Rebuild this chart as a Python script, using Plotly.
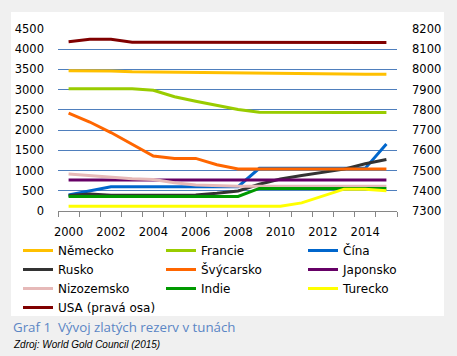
import plotly.graph_objects as go

years = list(range(2000, 2016))
tick_years = [2000, 2002, 2004, 2006, 2008, 2010, 2012, 2014]

nemecko = [3468, 3468, 3463, 3440, 3433, 3428, 3423, 3417, 3413, 3408, 3402, 3396, 3391, 3387, 3384, 3381]
francie = [3025, 3025, 3025, 3025, 2985, 2826, 2715, 2605, 2510, 2440, 2435, 2435, 2435, 2435, 2435, 2435]
cina = [395, 500, 600, 600, 600, 600, 600, 600, 600, 1054, 1054, 1054, 1054, 1054, 1054, 1658]
rusko = [384, 423, 390, 390, 387, 387, 395, 438, 495, 660, 790, 880, 960, 1035, 1170, 1275]
svycarsko = [2420, 2200, 1940, 1655, 1360, 1300, 1300, 1145, 1040, 1040, 1040, 1040, 1040, 1040, 1040, 1040]
japonsko = [765] * 16
nizozemsko = [912, 870, 840, 800, 780, 700, 645, 621, 612, 612, 612, 612, 612, 612, 612, 612]
indie = [358, 358, 358, 358, 358, 358, 358, 358, 358, 558, 558, 558, 558, 558, 558, 558]
turecko = [116, 116, 116, 116, 116, 116, 116, 116, 116, 116, 116, 200, 370, 540, 540, 500]
usa = [8137, 8149, 8149, 8135, 8135, 8135, 8133, 8133, 8133, 8133, 8133, 8133, 8133, 8133, 8133, 8133]

# (name, values, colour, legend column)
series = [
    ("Německo", nemecko, "#ffc000", "legend"),
    ("Francie", francie, "#99cc00", "legend2"),
    ("Čína", cina, "#0066cc", "legend3"),
    ("Rusko", rusko, "#333333", "legend"),
    ("Švýcarsko", svycarsko, "#ff6600", "legend2"),
    ("Japonsko", japonsko, "#660066", "legend3"),
    ("Nizozemsko", nizozemsko, "#e6b9b8", "legend"),
    ("Indie", indie, "#009900", "legend2"),
    ("Turecko", turecko, "#ffff00", "legend3"),
]

fig = go.Figure()
for name, vals, col, lg in series:
    fig.add_trace(go.Scatter(x=years, y=vals, name=name, mode="lines",
                             line=dict(color=col, width=3), legend=lg))
fig.add_trace(go.Scatter(x=years, y=usa, name="USA (pravá osa)", mode="lines",
                         line=dict(color="#800000", width=3), yaxis="y2", legend="legend"))

L, R, T, B = 58, 60, 29, 145
W, H = 457, 356
pw, ph = W - L - R, H - T - B

def px_x(x):
    return (x - L) / pw

def px_y(y):
    return (H - B - y) / ph

fig.add_shape(type="rect", xref="paper", yref="paper",
              x0=px_x(11), x1=px_x(444), y0=px_y(316), y1=px_y(12),
              fillcolor="white", line=dict(width=0), layer="below")

fig.add_annotation(text="Graf 1  Vývoj zlatých rezerv v tunách", xref="paper", yref="paper",
                   x=px_x(11), y=px_y(327), xanchor="left", yanchor="middle", showarrow=False,
                   font=dict(family="Open Sans", size=13.3, color="#5b86c5"))
fig.add_annotation(text="<i>Zdroj: World Gold Council (2015)</i>", xref="paper", yref="paper",
                   x=px_x(11), y=px_y(344), xanchor="left", yanchor="middle", showarrow=False,
                   font=dict(family="Liberation Sans", size=10, color="#000000"))

legend_common = dict(orientation="v", yanchor="top", xanchor="left",
                     bgcolor="rgba(0,0,0,0)", font=dict(family="DejaVu Sans", size=12),
                     traceorder="normal", itemwidth=30, tracegroupgap=0)

fig.update_layout(
    width=W, height=H,
    margin=dict(l=L, r=R, t=T, b=B, pad=0, autoexpand=False),
    paper_bgcolor="#f0f0f0",
    plot_bgcolor="white",
    font=dict(family="DejaVu Sans", size=12, color="#000000"),
    showlegend=True,
    legend=dict(x=px_x(18), y=px_y(236), **legend_common),
    legend2=dict(x=px_x(161), y=px_y(236), **legend_common),
    legend3=dict(x=px_x(303), y=px_y(236), **legend_common),
    xaxis=dict(range=[1999.5, 2015.5], tickmode="array", tickvals=tick_years,
               ticktext=[str(y) for y in tick_years], ticks="", showgrid=False,
               showline=True, linecolor="#868686", linewidth=1,
               tickfont=dict(family="DejaVu Sans", size=11.5), ticklabelstandoff=10,
               minor=dict(tickmode="array", tickvals=[y + 0.5 for y in range(1999, 2016)],
                          ticks="outside", ticklen=5, tickcolor="#868686", showgrid=False),
               zeroline=False, fixedrange=True),
    yaxis=dict(range=[0, 4500], dtick=500, tick0=0, showgrid=True, gridcolor="#4f7fbd",
               gridwidth=1, zeroline=False, showline=False, ticks="",
               tickfont=dict(family="DejaVu Sans", size=11.5), ticklabelstandoff=13),
    yaxis2=dict(range=[7300, 8200], dtick=100, tick0=7300, overlaying="y", side="right",
                showgrid=False, zeroline=False, showline=False, ticks="",
                tickfont=dict(family="DejaVu Sans", size=11.5), ticklabelstandoff=14),
)

fig.write_html("out.html", config={"displayModeBar": False},
               post_script="document.body.style.margin='0px';document.body.style.padding='0px';"
                           "document.body.style.background='#f0f0f0';")
